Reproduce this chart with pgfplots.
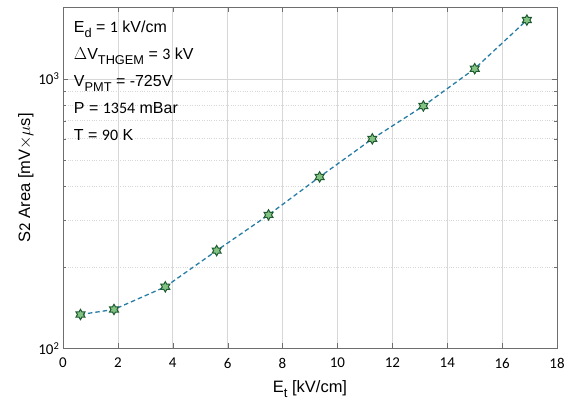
\documentclass[border=0pt]{standalone}
\usepackage{pgfplots}
\pgfplotsset{compat=1.18}
\usepackage{graphicx}
\usepackage{fontspec}
\setmainfont{Liberation Sans}
\newfontfamily\calfont{Carlito}
\newcommand\sub[1]{\raisebox{-0.65ex}{\scalebox{0.8}{#1}}}
\definecolor{axgray}{RGB}{110,110,110}
\definecolor{gridgray}{RGB}{215,215,215}
\definecolor{linecol}{RGB}{40,125,165}
\definecolor{mkface}{RGB}{130,195,130}
\definecolor{mkedge}{RGB}{30,90,50}
\pgfdeclareplotmark{hexagram}{%
  \pgfpathmoveto{\pgfqpointpolar{90}{\pgfplotmarksize}}%
  \pgfpathlineto{\pgfqpointpolar{120}{0.577\pgfplotmarksize}}%
  \pgfpathlineto{\pgfqpointpolar{150}{\pgfplotmarksize}}%
  \pgfpathlineto{\pgfqpointpolar{180}{0.577\pgfplotmarksize}}%
  \pgfpathlineto{\pgfqpointpolar{210}{\pgfplotmarksize}}%
  \pgfpathlineto{\pgfqpointpolar{240}{0.577\pgfplotmarksize}}%
  \pgfpathlineto{\pgfqpointpolar{270}{\pgfplotmarksize}}%
  \pgfpathlineto{\pgfqpointpolar{300}{0.577\pgfplotmarksize}}%
  \pgfpathlineto{\pgfqpointpolar{330}{\pgfplotmarksize}}%
  \pgfpathlineto{\pgfqpointpolar{0}{0.577\pgfplotmarksize}}%
  \pgfpathlineto{\pgfqpointpolar{30}{\pgfplotmarksize}}%
  \pgfpathlineto{\pgfqpointpolar{60}{0.577\pgfplotmarksize}}%
  \pgfpathclose
  \pgfusepathqfillstroke}
\begin{document}
\begin{tikzpicture}
\begin{axis}[
  scale only axis,
  width=495pt, height=342pt,
  xmin=0, xmax=18,
  ymode=log, ymin=100, ymax=1850,
  xtick={0,2,...,18},
  ytick={100,1000},
  yticklabels={{\calfont 10\textsuperscript{2}},{\calfont 10\textsuperscript{3}}},
  minor ytick={200,300,400,500,600,700,800,900},
  xticklabel style={font=\calfont\fontsize{15}{15}\selectfont, yshift=-6pt},
  yticklabel style={font=\fontsize{15}{15}\selectfont},
  /pgf/number format/assume math mode=true,
  tick align=inside,
  axis line style={axgray},
  tick style={axgray},
  major tick length=5pt,
  minor tick length=3pt,
  xmajorgrids, ymajorgrids, yminorgrids,
  major grid style={gridgray, line width=0.5pt},
  minor grid style={gridgray, dotted, line width=0.6pt},
  xlabel={E\sub{t} [kV/cm]},
  ylabel={S{\calfont 2} Area [mV$\times\mu$s]},
  label style={font=\fontsize{16.5}{16.5}\selectfont},
  xlabel style={yshift=-5pt},
  ylabel style={yshift=-2pt},
  clip=false,
]
\path[use as bounding box] (rel axis cs:-0.1273,-0.1754) rectangle (rel axis cs:1.0202,1.0205);
\addplot[linecol, line width=1.3pt, dash pattern=on 4.5pt off 3pt, mark=none] coordinates {
(0.64,133.6) (1.86,139.5) (3.73,169.3) (5.6,230.7) (7.49,313) (9.35,433)
(11.27,599.5) (13.13,794) (15.0,1092) (16.9,1654)
};
\addplot[only marks, mark=hexagram, mark options={draw=mkedge, fill=mkface, line width=1pt},
  mark size=5.2pt] coordinates {
(0.64,133.6) (1.86,139.5) (3.73,169.3) (5.6,230.7) (7.49,313) (9.35,433)
(11.27,599.5) (13.13,794) (15.0,1092) (16.9,1654)
};
\node[anchor=north west, align=left, font=\fontsize{16}{27}\selectfont, inner sep=0pt]
  at (rel axis cs:0.022,0.96) {%
  E\sub{d} = {\calfont 1} kV/cm\\
  $\Delta$V\sub{THGEM} = {\calfont 3} kV\\
  V\sub{PMT} = -725V\\
  P = {\calfont 1354} mBar\\
  T = {\calfont 90} K};
\end{axis}
\end{tikzpicture}
\end{document}
